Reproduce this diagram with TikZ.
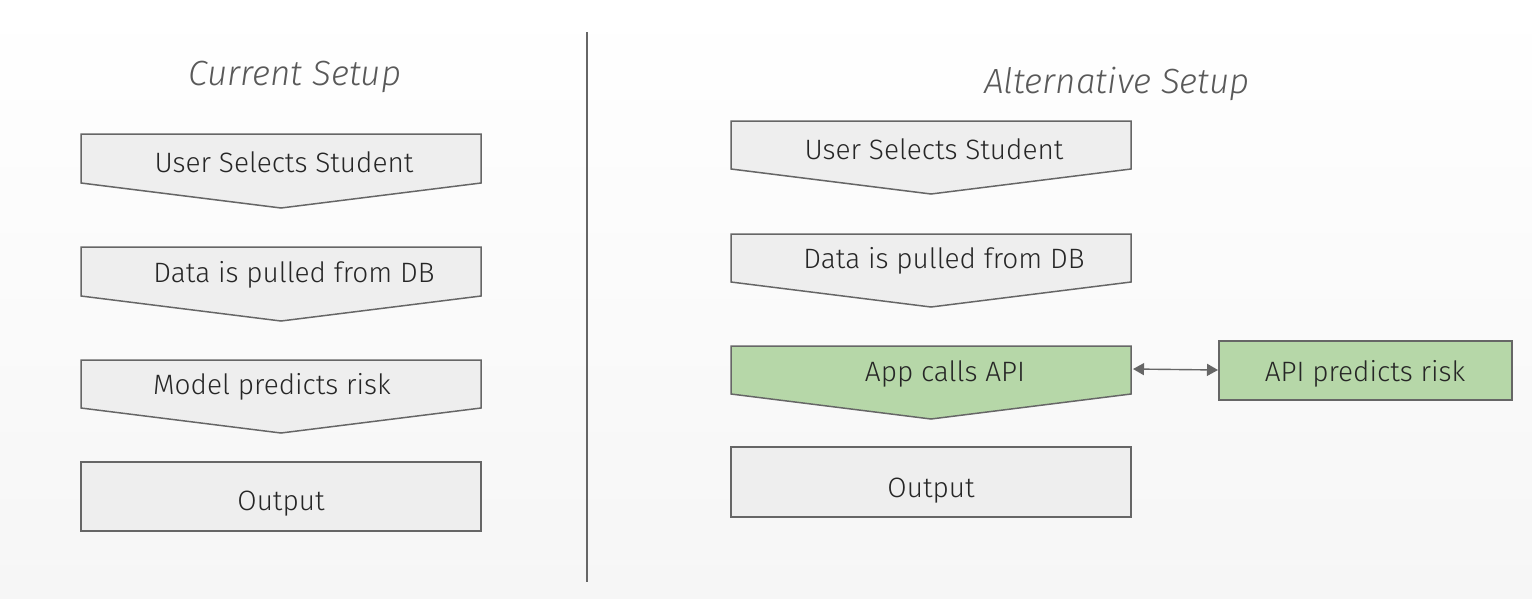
\documentclass[tikz,border=0pt]{standalone}
\usepackage{fontspec}
\setmainfont{Fira Sans}[UprightFont=* Light, ItalicFont=* Light Italic]
\usetikzlibrary{arrows.meta}
\definecolor{boxgray}{HTML}{EEEEEE}
\definecolor{boxgreen}{HTML}{B6D7A8}
\definecolor{edgegray}{HTML}{666666}
\definecolor{titlegray}{HTML}{595959}
\definecolor{bgbottom}{HTML}{F6F6F6}
\tikzset{
  chevbox/.style={draw=edgegray, line width=1.5pt, fill=boxgray},
  boxtext/.style={font=\fontsize{28}{31}\selectfont, text=black!85, anchor=center, inner sep=0pt, yshift=-2pt},
  titletext/.style={font=\fontsize{35}{38}\selectfont\itshape, text=titlegray, anchor=center, inner sep=0pt, yshift=-2pt},
  link/.style={draw=edgegray, line width=1.4pt, {Triangle[length=11pt,width=12pt]}-{Triangle[length=11pt,width=12pt]}}
}
\begin{document}
\begin{tikzpicture}[x=1pt,y=-1pt]
\shade[top color=white, bottom color=bgbottom] (0,0) rectangle (1532,598);
\useasboundingbox (0,0) rectangle (1532,598);
% divider
\draw[edgegray, line width=1.2pt] (587,32) -- (587,582);
% titles
\node[titletext] (t1) at (295,75) {Current Setup};
\node[titletext] (t2) at (1117,82) {Alternative Setup};
% left column
\draw[chevbox] (81,134) -- (481,134) -- (481,183) -- (281,208) -- (81,183) -- cycle;
\draw[chevbox] (81,247) -- (481,247) -- (481,296) -- (281,321) -- (81,296) -- cycle;
\draw[chevbox] (81,360) -- (481,360) -- (481,408) -- (281,433) -- (81,408) -- cycle;
\draw[chevbox] (81,462) rectangle (481,531);
\node[boxtext] (l1) at (284,160) {User Selects Student};
\node[boxtext] (l2) at (294,273) {Data is pulled from DB};
\node[boxtext] (l3) at (272,385) {Model predicts risk};
\node[boxtext] (l4) at (281,502) {Output};
% right column
\draw[chevbox] (731,121) -- (1131,121) -- (1131,169) -- (931,194) -- (731,169) -- cycle;
\draw[chevbox] (731,234) -- (1131,234) -- (1131,282) -- (931,307) -- (731,282) -- cycle;
\draw[chevbox, fill=boxgreen] (731,346) -- (1131,346) -- (1131,394) -- (931,419) -- (731,394) -- cycle;
\draw[chevbox] (731,447) rectangle (1131,517);
\draw[chevbox, fill=boxgreen] (1219,341) rectangle (1512,400);
\node[boxtext] (r1) at (934,147) {User Selects Student};
\node[boxtext] (r2) at (944,259) {Data is pulled from DB};
\node[boxtext] (r3) at (945,372) {App calls API};
\node[boxtext] (r4) at (931,489) {Output};
\node[boxtext] (api) at (1365,372) {API predicts risk};
\coordinate (ca) at (1133,369);
\coordinate (cb) at (1218,370);
\draw[link] (ca) -- (cb);
\end{tikzpicture}
\end{document}
